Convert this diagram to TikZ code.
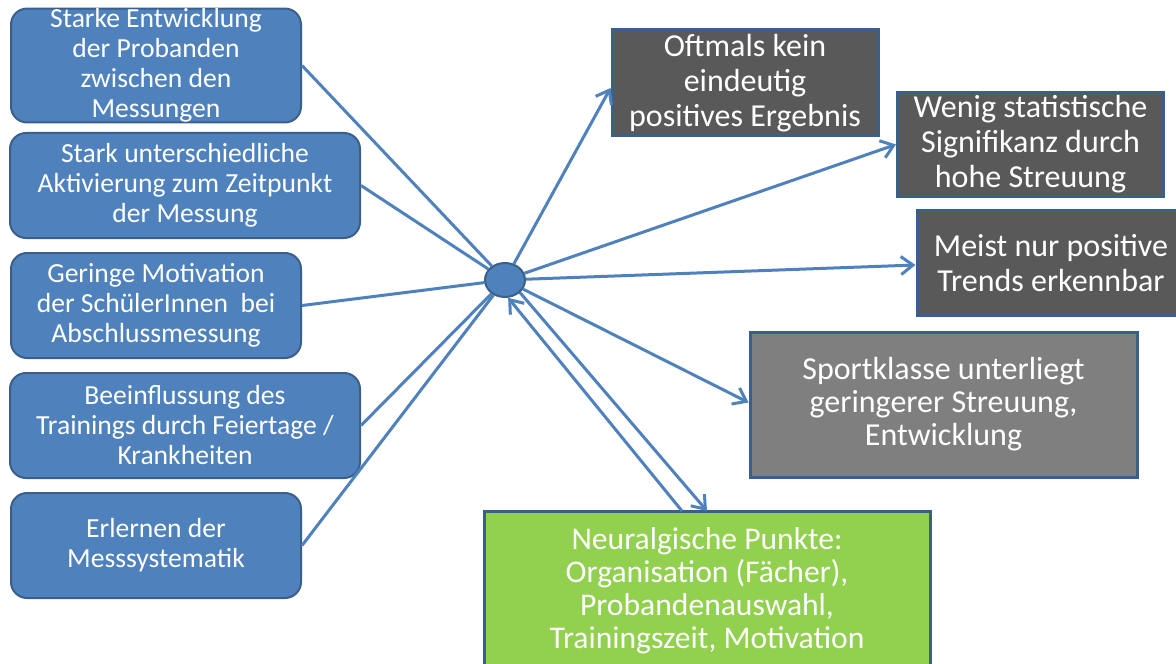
\documentclass[tikz,border=0pt]{standalone}
\usepackage{fontspec}
\setmainfont{Carlito}
\usetikzlibrary{arrows.meta,shapes.geometric}

\definecolor{boxblue}{HTML}{4F81BD}
\definecolor{edgeblue}{HTML}{3A5F8B}
\definecolor{darkbox}{HTML}{595959}
\definecolor{midbox}{HTML}{7F7F7F}
\definecolor{greenbox}{HTML}{92D050}

\tikzset{
  cause/.style={draw=edgeblue, line width=1pt, fill=boxblue, rounded corners=8pt,
    text=white, align=center, minimum height=52.5pt, inner sep=0pt,
    font=\fontsize{13.8}{15}\selectfont},
  effect/.style={draw=edgeblue, line width=1.5pt, fill=darkbox, text=white,
    align=center, inner sep=0pt, font=\fontsize{16}{17.5}\selectfont},
  link/.style={boxblue, line width=1.5pt},
  tip/.style={-{Straight Barb[length=6pt,width=9pt]}},
}

\begin{document}
\begin{tikzpicture}[x=0.5pt,y=-0.5pt]
                    \clip (0,0) rectangle (1176,663);

                    % causes (left)
                    \node[cause, minimum width=145pt] (c1) at (156,65.5) {Starke Entwicklung\\der Probanden\\zwischen den\\Messungen};
                    \node[cause, minimum width=175pt] (c2) at (185,185.5) {Stark unterschiedliche\\Aktivierung zum Zeitpunkt\\der Messung};
                    \node[cause, minimum width=145pt] (c3) at (156,305.5) {Geringe Motivation\\der SchülerInnen~ bei\\Abschlussmessung};
                    \node[cause, minimum width=175pt] (c4) at (185,425.5) {Beeinflussung des\\Trainings durch Feiertage /\\Krankheiten};
                    \node[cause, minimum width=145pt] (c5) at (156,545.5) {Erlernen der\\Messsystematik};

                    \node[ellipse, draw=edgeblue, fill=boxblue, line width=1pt, inner sep=0pt,
                          minimum width=20pt, minimum height=17pt] (hub) at (505,280) {};

                    % results (right)
                    \node[effect, minimum width=133pt, minimum height=53pt] (r1) at (745,83) {Oftmals kein\\eindeutig\\positives Ergebnis};
                    \node[effect, minimum width=133pt, minimum height=52pt] (r2) at (1030.5,144.5) {Wenig statistische\\Signifikanz durch\\hohe Streuung};
                    \node[effect, minimum width=134pt, minimum height=52pt] (r3) at (1051,263) {Meist nur positive\\Trends erkennbar};
                    \node[effect, fill=midbox, minimum width=193.5pt, minimum height=72.5pt,
                          font=\fontsize{16}{16.5}\selectfont] (r4) at (943.5,404.5) {Sportklasse unterliegt\\geringerer Streuung,\\Entwicklung};
                    \node[effect, fill=greenbox, minimum width=223pt, minimum height=79.5pt,
                          font=\fontsize{15.8}{16.5}\selectfont] (np) at (707,590.5) {Neuralgische Punkte:\\Organisation (Fächer),\\Probandenauswahl,\\Trainingszeit, Motivation};

                    \coordinate (np1) at (682,511);
                    \coordinate (np2) at (707,511);

                    \foreach \c in {c1,c2,c3,c4,c5}
                        \draw[link] (\c.east) -- (hub);

                    \draw[link,tip] (hub) -- ([yshift=-2.5pt]r1.west);
                    \draw[link,tip] (hub) -- (r2.west);
                    \draw[link,tip] (hub) -- ([yshift=-1pt]r3.west);
                    \draw[link,tip] (hub) -- ([yshift=1pt]r4.west);
                    \draw[link,tip] (hub.-40) -- (np2);
                    \draw[link,tip] (np1) -- (hub.-80);
\end{tikzpicture}
\end{document}
